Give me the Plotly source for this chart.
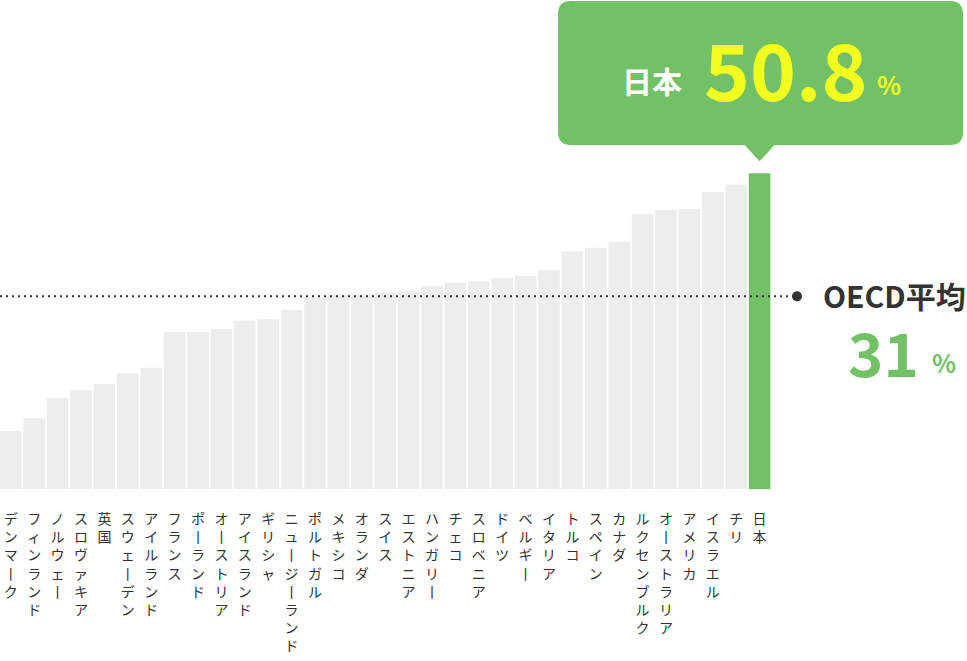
import plotly.graph_objects as go

# OECD countries, share in %
countries = ['デンマーク', 'フィンランド', 'ノルウェー', 'スロヴァキア', '英国', 'スウェーデン',
             'アイルランド', 'フランス', 'ポーランド', 'オーストリア', 'アイスランド', 'ギリシャ',
             'ニュージーランド', 'ポルトガル', 'メキシコ', 'オランダ', 'スイス', 'エストニア',
             'ハンガリー', 'チェコ', 'スロベニア', 'ドイツ', 'ベルギー', 'イタリア', 'トルコ',
             'スペイン', 'カナダ', 'ルクセンブルク', 'オーストラリア', 'アメリカ', 'イスラエル',
             'チリ', '日本']
rates = [9.3, 11.4, 14.7, 15.9, 16.9, 18.6, 19.5, 25.3, 25.3, 25.7, 27.1, 27.3,
         28.8, 30.8, 31.2, 31.2, 31.6, 31.9, 32.7, 33.2, 33.4, 34.0, 34.3, 35.2,
         38.2, 38.8, 39.8, 44.2, 44.9, 45.0, 47.8, 49.0, 50.8]
oecd_avg = 31
highlight = '日本'

W, H = 967, 661
BASE = 489          # baseline in px from top
PX_X = 23.4         # px per category
PX_Y = 6.215        # px per percent
X0 = -0.4615

FONT = 'Noto Sans CJK JP'
GREEN = '#73c167'
GRAY = '#ededed'
YELLOW = '#f2ff1e'
DARK = '#333333'


def vert(name):
    # stack characters to mimic vertical writing (long vowel mark turns upright)
    return '<br>'.join('丨' if c == 'ー' else c for c in name)


def dx(px):
    return X0 + px / PX_X


def dy(py):
    return (BASE - py) / PX_Y


ji = countries.index(highlight)
jv = rates[ji]
colors = [GREEN if c == highlight else GRAY for c in countries]

fig = go.Figure()
fig.add_trace(go.Bar(x=list(range(len(countries))), y=rates, marker=dict(color=colors, line_width=0),
                     hoverinfo='skip', showlegend=False))

# OECD average dotted line + dot
dot_px = 797
fig.add_shape(type='line', xref='x', yref='y', x0=dx(0), x1=dx(dot_px), y0=oecd_avg, y1=oecd_avg,
              line=dict(color=DARK, width=2, dash='2px,4px'), layer='above')
fig.add_trace(go.Scatter(x=[dx(dot_px)], y=[oecd_avg], mode='markers', cliponaxis=False,
                         marker=dict(size=10, color=DARK), hoverinfo='skip', showlegend=False))

# callout above the highlighted bar
cx = (ji - X0) * PX_X
apex = BASE - jv * PX_Y - 12
l, r, t, b, rad = 558, 963, 1, 145, 13
pts = [('M', l + rad, t), ('L', r - rad, t), ('Q', r, t, r, t + rad), ('L', r, b - rad),
       ('Q', r, b, r - rad, b), ('L', cx + 15, b), ('L', cx, apex), ('L', cx - 15, b),
       ('L', l + rad, b), ('Q', l, b, l, b - rad), ('L', l, t + rad), ('Q', l, t, l + rad, t)]
path = ''
for p in pts:
    coords = p[1:]
    path += p[0] + ' ' + ' '.join(f'{dx(coords[i]):.4f},{dy(coords[i + 1]):.4f}'
                                  for i in range(0, len(coords), 2)) + ' '
path += 'Z'
fig.add_shape(type='path', path=path, xref='x', yref='y', fillcolor=GREEN, line_width=0, layer='above')


def txt(px, py, text, size, color, anchor='center'):
    fig.add_annotation(x=dx(px), y=dy(py), xref='x', yref='y', text=text, showarrow=False,
                       xanchor=anchor, yanchor='middle',
                       font=dict(family=FONT, size=size, color=color, weight=700))


txt(652, 80, highlight, 30, 'white')
txt(785, 67, f'{jv}', 78, YELLOW)
txt(889, 84, '%', 25, YELLOW)
txt(821, 295, 'OECD平均', 30, DARK, 'left')
txt(846, 350, f'{oecd_avg}', 60, GREEN, 'left')
txt(930, 362, '%', 25, GREEN, 'left')

fig.update_layout(
    width=W, height=H,
    margin=dict(l=0, r=0, t=0, b=H - BASE, pad=0),
    paper_bgcolor='white', plot_bgcolor='white',
    bargap=1 - 21.6 / PX_X,
    xaxis=dict(range=[X0, X0 + W / PX_X], tickmode='array', tickvals=list(range(len(countries))),
               ticktext=[vert(c) for c in countries], showgrid=False, zeroline=False,
               showline=False, ticks='', ticklabelstandoff=20, automargin=False,
               tickfont=dict(family=FONT, size=14, color=DARK)),
    yaxis=dict(range=[0, BASE / PX_Y], visible=False, automargin=False),
)

# page body margin would shift the figure, so drop it
fig.write_html("out.html", config={'displayModeBar': False},
               post_script="document.body.style.margin='0';document.body.style.overflow='hidden';")
